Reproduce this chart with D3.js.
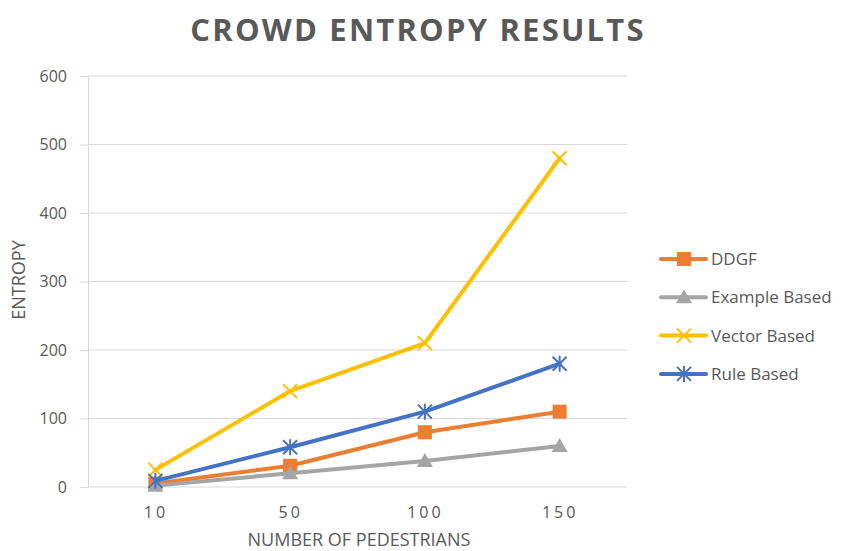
<!DOCTYPE html>
<html>
<head>
<meta charset="utf-8">
<script src="https://cdn.jsdelivr.net/npm/d3@7"></script>
<style>
  body { margin: 0; background: #fff; }
  svg { display: block; }
</style>
</head>
<body>
<svg id="chart" width="841" height="551"></svg>
<script>
// Crowd entropy per method, by number of pedestrians
const categories = ["10", "50", "100", "150"];
const ddgf = [5, 31, 80, 110];
const exampleBased = [2, 20, 38, 60];
const vectorBased = [25, 140, 210, 480];
const ruleBased = [9, 58, 110, 180];
const yTicks = [0, 100, 200, 300, 400, 500, 600];

const series = [
  { name: "DDGF", values: ddgf, color: "#ED7D31", marker: "square" },
  { name: "Example Based", values: exampleBased, color: "#A5A5A5", marker: "triangle" },
  { name: "Vector Based", values: vectorBased, color: "#FFC000", marker: "cross" },
  { name: "Rule Based", values: ruleBased, color: "#4472C4", marker: "star" }
];

const svg = d3.select("#chart");
const plot = { left: 88, right: 627, top: 76, bottom: 487 };
const textColor = "#595959";
const font = "'Open Sans', 'Liberation Sans', sans-serif";

const x = d3.scalePoint().domain(categories).range([plot.left, plot.right]).padding(0.5);
const y = d3.scaleLinear().domain([0, 600]).range([plot.bottom, plot.top]);

// Title
svg.append("text")
  .attr("x", 418).attr("y", 41)
  .attr("text-anchor", "middle")
  .attr("font-family", font)
  .attr("font-weight", "bold")
  .attr("font-size", 31)
  .attr("letter-spacing", 2.2)
  .attr("fill", textColor)
  .text("CROWD ENTROPY RESULTS");

// Gridlines
svg.append("g")
  .selectAll("line")
  .data(yTicks)
  .join("line")
  .attr("x1", plot.left).attr("x2", plot.right)
  .attr("y1", d => y(d)).attr("y2", d => y(d))
  .attr("stroke", "#D9D9D9").attr("stroke-width", 1);

// Y axis
const yAxis = svg.append("g")
  .attr("transform", `translate(${plot.left},0)`)
  .call(d3.axisLeft(y).tickValues(yTicks).tickSize(8).tickPadding(13));
yAxis.select(".domain").attr("stroke", "#D9D9D9");
yAxis.selectAll(".tick line").attr("stroke", "#D9D9D9");
yAxis.selectAll(".tick text")
  .attr("font-family", font).attr("font-size", 16).attr("fill", textColor);

// X axis labels
const xAxis = svg.append("g")
  .attr("transform", `translate(0,${plot.bottom})`)
  .call(d3.axisBottom(x).tickSize(0).tickPadding(20));
xAxis.select(".domain").remove();
xAxis.selectAll(".tick text")
  .attr("font-family", font).attr("font-size", 16).attr("fill", textColor)
  .attr("letter-spacing", 3);

// Axis titles
svg.append("text")
  .attr("x", 359).attr("y", 546)
  .attr("text-anchor", "middle")
  .attr("font-family", font).attr("font-size", 18).attr("fill", textColor)
  .text("NUMBER OF PEDESTRIANS");

svg.append("text")
  .attr("transform", "translate(25,280) rotate(-90)")
  .attr("text-anchor", "middle")
  .attr("font-family", font).attr("font-size", 18).attr("fill", textColor)
  .text("ENTROPY");

// Marker shapes
function drawMarker(g, type, color, cx, cy) {
  if (type === "square") {
    g.append("rect").attr("x", cx - 7).attr("y", cy - 7).attr("width", 14).attr("height", 14).attr("fill", color);
  } else if (type === "triangle") {
    g.append("path").attr("d", `M${cx},${cy - 8}L${cx + 8},${cy + 6}L${cx - 8},${cy + 6}Z`).attr("fill", color);
  } else if (type === "cross") {
    g.append("path").attr("d", `M${cx - 7},${cy - 7}L${cx + 7},${cy + 7}M${cx + 7},${cy - 7}L${cx - 7},${cy + 7}`)
      .attr("stroke", color).attr("stroke-width", 2).attr("fill", "none");
  } else if (type === "star") {
    g.append("path").attr("d", `M${cx - 7},${cy - 7}L${cx + 7},${cy + 7}M${cx + 7},${cy - 7}L${cx - 7},${cy + 7}M${cx},${cy - 8}L${cx},${cy + 8}`)
      .attr("stroke", color).attr("stroke-width", 2).attr("fill", "none");
  }
}

const line = d3.line().x((d, i) => x(categories[i])).y(d => y(d));

series.forEach(s => {
  const g = svg.append("g");
  g.append("path")
    .datum(s.values)
    .attr("d", line)
    .attr("fill", "none")
    .attr("stroke", s.color)
    .attr("stroke-width", 4)
    .attr("stroke-linejoin", "round")
    .attr("stroke-linecap", "round");
  s.values.forEach((v, i) => drawMarker(g, s.marker, s.color, x(categories[i]), y(v)));
});

// Legend
const legend = svg.append("g");
series.forEach((s, i) => {
  const ly = 259 + i * 38.3;
  const g = legend.append("g");
  g.append("line").attr("x1", 661).attr("x2", 706).attr("y1", ly).attr("y2", ly)
    .attr("stroke", s.color).attr("stroke-width", 4).attr("stroke-linecap", "round");
  drawMarker(g, s.marker, s.color, 684, ly);
  g.append("text").attr("x", 711).attr("y", ly).attr("dy", "0.35em")
    .attr("font-family", font).attr("font-size", 17).attr("fill", textColor)
    .text(s.name);
});
</script>
</body>
</html>
